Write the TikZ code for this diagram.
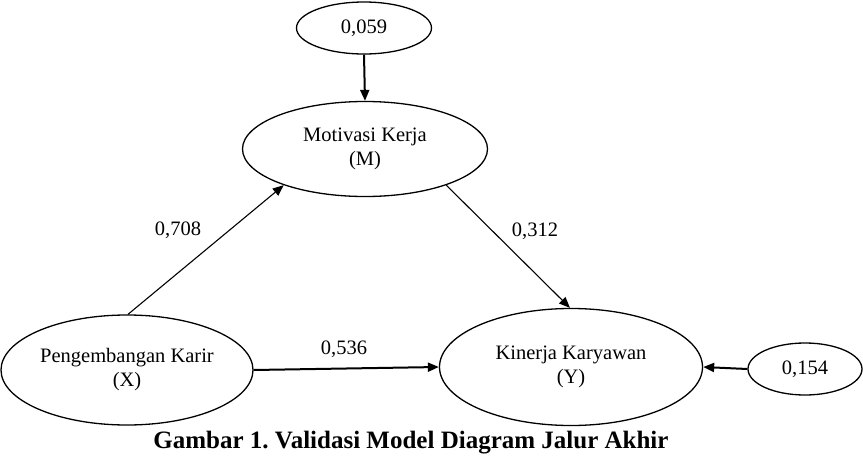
\documentclass[tikz,border=0pt]{standalone}
\usepackage{fontspec}
\setmainfont{Liberation Serif}
\usetikzlibrary{shapes.geometric,arrows.meta}
\frenchspacing
\begin{document}
\begin{tikzpicture}[x=1pt,y=-1pt,
  lbl/.style={font=\fontsize{20.5}{24}\selectfont},
  var/.style={ellipse,draw,line width=1.3pt,inner sep=0pt,align=center,font=\fontsize{20.5}{24}\selectfont},
  conn/.style={line width=1.1pt,-{Triangle[length=11pt,width=9pt]}},
  thick conn/.style={line width=2pt,-{Triangle[length=11pt,width=9pt]}}]
\useasboundingbox (0,0) rectangle (863,458);
\node[var,minimum width=135pt,minimum height=52pt] (E1) at (364,28) {0,059};
\node[var,minimum width=245pt,minimum height=95pt] (M) at (365,149) {Motivasi Kerja\\(M)};
\node[var,minimum width=252pt,minimum height=110pt] (X) at (127,370) {Pengembangan Karir\\(X)};
\node[var,minimum width=263pt,minimum height=117pt] (Y) at (571,367) {Kinerja Karyawan\\(Y)};
\node[var,minimum width=114pt,minimum height=52pt] (E2) at (805,369) {0,154};
\draw[thick conn] (E1.south) -- (M.north);
\draw[conn] (X.89) -- (M.204);
\draw[conn] (M.336) -- (Y.91);
\draw[thick conn] (X.east) -- (Y.west);
\draw[thick conn] (E2.west) -- (Y.east);
\node[lbl] (l1) at (178,230) {0,708};
\node[lbl] (l2) at (535,231) {0,312};
\node[lbl] (l3) at (344,349) {0,536};
\node[font=\bfseries\fontsize{25}{28}\selectfont] (cap) at (411,443) {Gambar 1. Validasi Model Diagram Jalur Akhir};
\end{tikzpicture}
\end{document}
